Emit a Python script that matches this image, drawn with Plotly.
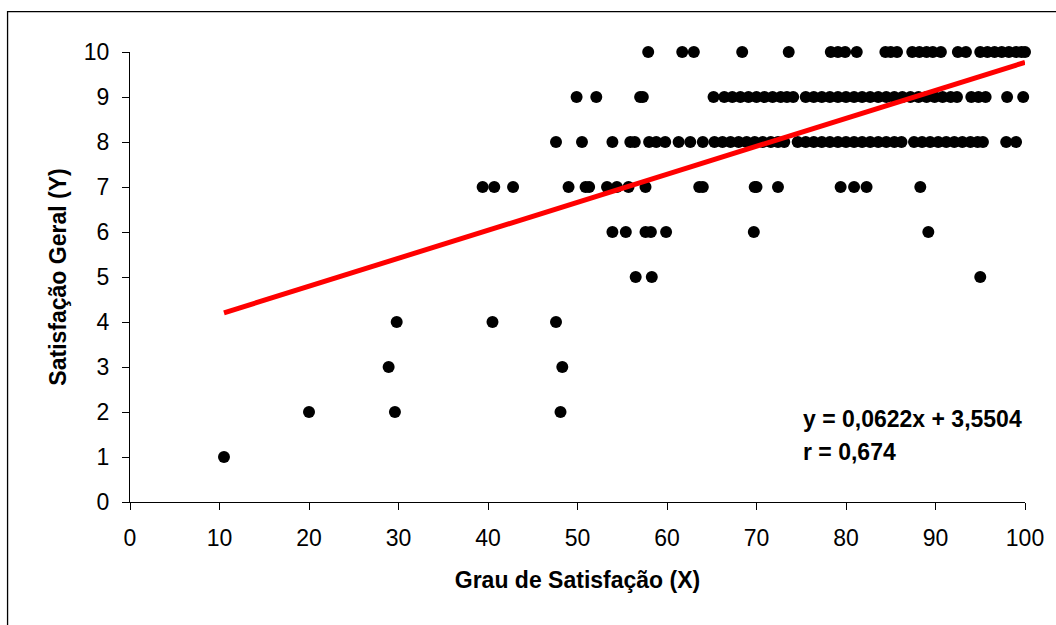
import plotly.graph_objects as go

# x values (Grau de Satisfação) grouped by overall satisfaction level (Y)
x_y1 = [10.5]
x_y2 = [20.0, 29.6, 48.1]
x_y3 = [28.9, 48.3]
x_y4 = [29.8, 40.5, 47.6]
x_y5 = [56.5, 58.3, 95.0]
x_y6 = [53.9, 55.4, 57.6, 58.2, 59.9, 69.7, 89.2]
x_y7 = [39.4, 40.7, 42.8, 49.0, 50.9, 51.3, 53.3, 54.4, 55.7, 57.6, 63.6, 64.0,
        69.8, 70.0, 72.4, 79.4, 80.9, 82.3, 88.3]
x_y8 = [47.6, 50.5, 53.9, 55.9, 56.4, 58.0, 58.8, 59.8, 61.3, 62.6, 64.0,
        65.3, 66.2, 67.1, 68.0, 68.9, 69.8, 70.7, 71.6, 72.4, 73.1,
        74.6, 75.5, 76.4, 77.3, 78.2, 79.1, 80.0, 80.9, 81.8, 82.7, 83.6, 84.5, 85.4, 86.2,
        87.6, 88.5, 89.4, 90.3, 91.2, 92.1, 93.0, 93.9, 94.7, 95.3, 97.9, 99.0]
x_y9 = [49.9, 52.1, 57.0, 57.3, 65.2, 66.4, 67.3, 68.2, 69.1, 70.0, 70.9, 71.8, 72.7, 73.4, 74.1,
        75.5, 76.4, 77.3, 78.2, 79.1, 80.0, 80.9, 81.8, 82.7, 83.6, 84.5, 85.4, 86.3, 87.2,
        88.1, 89.0, 89.9, 90.8, 91.7, 92.4, 94.0, 94.8, 95.6, 98.0, 99.8]
x_y10 = [57.9, 61.7, 63.0, 68.4, 73.6, 78.3, 79.1, 79.9, 81.2, 84.4, 85.0, 85.7,
         87.4, 88.2, 89.0, 89.7, 90.6, 92.5, 93.4, 95.0, 95.8, 96.6, 97.4, 98.2, 99.0, 99.6, 100.0]

groups = [(1, x_y1), (2, x_y2), (3, x_y3), (4, x_y4), (5, x_y5), (6, x_y6),
          (7, x_y7), (8, x_y8), (9, x_y9), (10, x_y10)]

slope = 0.0622
intercept = 3.5504
eq_text = "y = 0,0622x + 3,5504"
r_text = "r = 0,674"

x_ticks = [0, 10, 20, 30, 40, 50, 60, 70, 80, 90, 100]
y_ticks = [0, 1, 2, 3, 4, 5, 6, 7, 8, 9, 10]

xs, ys = [], []
for yv, xl in groups:
    xs.extend(xl)
    ys.extend([yv] * len(xl))

x_min, x_max = min(xs), max(xs)
line_x = [x_min, x_max]
line_y = [slope * v + intercept for v in line_x]

FONT = "Arial, 'Liberation Sans', Helvetica, sans-serif"

fig = go.Figure()
fig.add_trace(go.Scatter(
    x=xs, y=ys, mode="markers",
    marker=dict(color="black", size=12, line=dict(width=0)),
    cliponaxis=False, showlegend=False, hoverinfo="x+y"))
fig.add_trace(go.Scatter(
    x=line_x, y=line_y, mode="lines",
    line=dict(color="#FF0000", width=5),
    cliponaxis=False, showlegend=False))

fig.add_annotation(x=75.0, y=1.84, xref="x", yref="y", text=eq_text,
                   showarrow=False, xanchor="left", yanchor="middle",
                   font=dict(family=FONT, size=23, color="black", weight="bold"))
fig.add_annotation(x=75.0, y=1.12, xref="x", yref="y", text=r_text,
                   showarrow=False, xanchor="left", yanchor="middle",
                   font=dict(family=FONT, size=23, color="black", weight="bold"))

# outer chart border (only left and top visible in frame)
fig.add_shape(type="rect", xref="paper", yref="paper",
              x0=-0.1368, x1=1.3, y0=-0.6, y1=1.0896,
              line=dict(color="black", width=1.3), layer="below")

fig.update_layout(
    width=1056, height=625,
    margin=dict(l=129.5, r=30.7, t=52.3, b=123),
    paper_bgcolor="white", plot_bgcolor="white",
    font=dict(family=FONT, size=23, color="black"),
    xaxis=dict(range=[0, 100], tickmode="array", tickvals=x_ticks,
               showgrid=False, zeroline=False, showline=True, linecolor="black",
               linewidth=1.2, ticks="outside", ticklen=7, tickcolor="black",
               tickwidth=1.2, ticklabelstandoff=8,
               title=dict(text="<b>Grau de Satisfação (X)</b>", standoff=22,
                          font=dict(size=23))),
    yaxis=dict(range=[0, 10], tickmode="array", tickvals=y_ticks,
               showgrid=False, zeroline=False, showline=True, linecolor="black",
               linewidth=1.2, ticks="outside", ticklen=7, tickcolor="black",
               tickwidth=1.2, ticklabelstandoff=8,
               title=dict(text="<b>Satisfação Geral (Y)</b>", standoff=10,
                          font=dict(size=23))),
)

fig.write_html("out.html", config={"displayModeBar": False},
               post_script="document.body.style.margin='0';")
